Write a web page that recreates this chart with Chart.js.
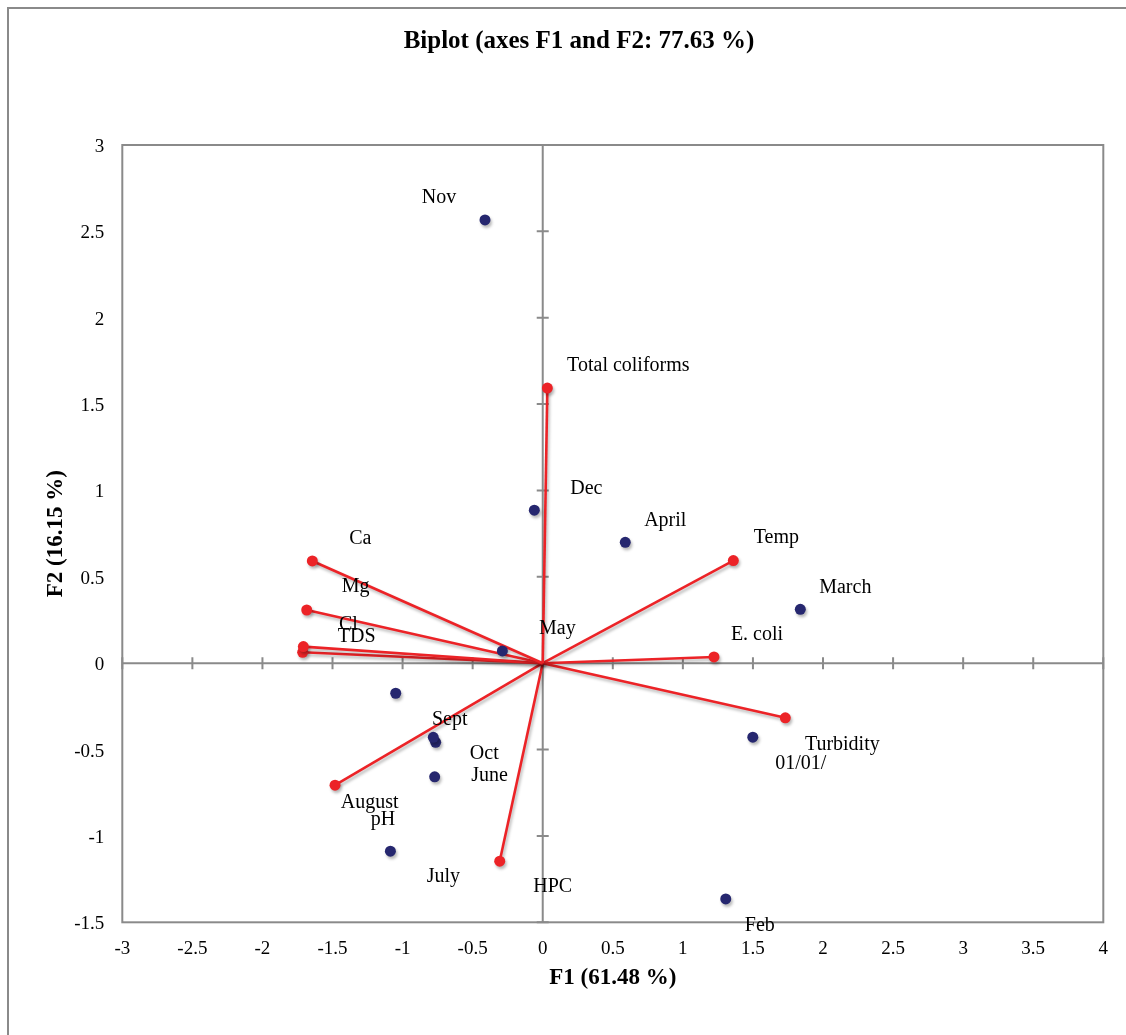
<!DOCTYPE html>
<html>
<head>
<meta charset="utf-8">
<title>Biplot</title>
<script src="https://cdn.jsdelivr.net/npm/chart.js@4.4.1/dist/chart.umd.min.js"></script>
<style>
  html, body { margin: 0; padding: 0; background: #ffffff; }
  #wrap { position: relative; width: 1126px; height: 1035px; }
</style>
</head>
<body>
<div id="wrap"><canvas id="biplot" width="1126" height="1035"></canvas></div>
<script>
// Observations (months) on the first two factors
const months = ['01/01/', 'Feb', 'March', 'April', 'May', 'June', 'July', 'August', 'Sept', 'Oct', 'Nov', 'Dec'];
const monthF1 = [1.499, 1.306, 1.838, 0.589, -0.288, -0.764, -1.087, -0.771, -1.049, -0.781, -0.412, -0.060];
const monthF2 = [-0.428, -1.365, 0.312, 0.700, 0.071, -0.458, -1.088, -0.658, -0.174, -0.429, 2.566, 0.886];

// Variables (loadings drawn as vectors from the origin)
const variables = ['Total coliforms', 'Ca', 'Mg', 'Cl', 'TDS', 'Temp', 'E. coli', 'Turbidity', 'pH', 'HPC'];
const varF1 = [0.033, -1.644, -1.684, -1.708, -1.713, 1.360, 1.222, 1.731, -1.482, -0.307];
const varF2 = [1.593, 0.592, 0.308, 0.096, 0.063, 0.594, 0.036, -0.316, -0.706, -1.146];

// Axis ticks
const xTicks = [-3, -2.5, -2, -1.5, -1, -0.5, 0, 0.5, 1, 1.5, 2, 2.5, 3, 3.5, 4];
const yTicks = [-1.5, -1, -0.5, 0, 0.5, 1, 1.5, 2, 2.5, 3];

// Label placement (pixel offset from each marker to the label centre)
const monthLabelOffsets = [[48, 27], [34, 27], [45, -22], [40, -22], [55, -22], [54, 33],
                           [53, 26], [-65, 26], [54, 26], [51, 16], [-46, -22], [52, -21]];
const varLabelOffsets = [[81, -22], [48, -22], [49, -23], [45, -22], [54, -16],
                         [43, -23], [43, -22], [57, 27], [48, 35], [53, 26]];

const SERIF = "'Liberation Serif', 'Times New Roman', serif";
const RED = '#ec2327';
const NAVY = '#26276f';
const GREY = '#8a8a8a';

const obsPoints = months.map((m, i) => ({ x: monthF1[i], y: monthF2[i] }));

const varDatasets = variables.map((name, i) => ({
  label: name,
  data: [{ x: 0, y: 0 }, { x: varF1[i], y: varF2[i] }],
  showLine: true,
  borderColor: RED,
  borderWidth: 2.6,
  pointRadius: [0, 5.5],
  pointBackgroundColor: RED,
  pointBorderColor: RED,
  pointBorderWidth: 0,
  order: 1,
  labelOffsets: [null, varLabelOffsets[i]],
  labelTexts: [null, name]
}));

const obsDataset = {
  label: 'Observations',
  data: obsPoints,
  showLine: false,
  pointRadius: 5.5,
  pointBackgroundColor: NAVY,
  pointBorderColor: NAVY,
  pointBorderWidth: 0,
  order: 0,
  labelOffsets: monthLabelOffsets,
  labelTexts: months
};

// Outer chart border, plot frame, and the axes crossing at the origin
const framePlugin = {
  id: 'frame',
  beforeDraw(chart) {
    const ctx = chart.ctx;
    ctx.save();
    ctx.strokeStyle = GREY;
    ctx.lineWidth = 2;
    ctx.strokeRect(8, 8, 3000, 3000);
    ctx.restore();
  },
  beforeDatasetsDraw(chart) {
    const { ctx, chartArea: a, scales: { x, y } } = chart;
    const x0 = x.getPixelForValue(0);
    const y0 = y.getPixelForValue(0);
    ctx.save();
    ctx.strokeStyle = GREY;
    ctx.lineWidth = 2;
    ctx.strokeRect(a.left, a.top, a.right - a.left, a.bottom - a.top);
    ctx.beginPath();
    ctx.moveTo(a.left, y0); ctx.lineTo(a.right, y0);
    ctx.moveTo(x0, a.top); ctx.lineTo(x0, a.bottom);
    xTicks.forEach(v => {
      const px = x.getPixelForValue(v);
      ctx.moveTo(px, y0 - 6); ctx.lineTo(px, y0 + 6);
    });
    yTicks.forEach(v => {
      const py = y.getPixelForValue(v);
      ctx.moveTo(x0 - 6, py); ctx.lineTo(x0 + 6, py);
    });
    ctx.stroke();
    ctx.restore();
  }
};

// Soft drop shadow under markers and vectors
const shadowPlugin = {
  id: 'markShadow',
  beforeDatasetDraw(chart) {
    const ctx = chart.ctx;
    ctx.save();
    ctx.shadowColor = 'rgba(0,0,0,0.28)';
    ctx.shadowBlur = 3;
    ctx.shadowOffsetX = 1.5;
    ctx.shadowOffsetY = 2.5;
  },
  afterDatasetDraw(chart) {
    chart.ctx.restore();
  }
};

// Text labels next to observations and variable vectors
const labelPlugin = {
  id: 'pointLabels',
  afterDatasetsDraw(chart) {
    const ctx = chart.ctx;
    ctx.save();
    ctx.font = '20px ' + SERIF;
    ctx.fillStyle = '#000';
    ctx.textAlign = 'center';
    ctx.textBaseline = 'middle';
    chart.data.datasets.forEach((ds, di) => {
      const meta = chart.getDatasetMeta(di);
      meta.data.forEach((el, i) => {
        const txt = ds.labelTexts && ds.labelTexts[i];
        if (!txt) return;
        const off = ds.labelOffsets[i];
        ctx.fillText(txt, el.x + off[0], el.y + off[1]);
      });
    });
    ctx.restore();
  }
};

new Chart(document.getElementById('biplot'), {
  type: 'scatter',
  data: { datasets: [obsDataset, ...varDatasets] },
  options: {
    responsive: false,
    animation: false,
    layout: { padding: { left: 54.7, right: 22.7, top: 0, bottom: 0 } },
    plugins: {
      legend: { display: false },
      tooltip: { enabled: false },
      title: {
        display: true,
        text: 'Biplot (axes F1 and F2: 77.63 %)',
        color: '#000',
        font: { family: SERIF, size: 25, weight: 'bold', lineHeight: 1.2 },
        padding: { top: 27, bottom: 88 }
      }
    },
    scales: {
      x: {
        type: 'linear',
        min: -3,
        max: 4,
        afterBuildTicks: s => { s.ticks = xTicks.map(v => ({ value: v })); },
        afterFit: s => { s.height = 112.7; },
        grid: { display: false, drawTicks: false },
        border: { display: false },
        ticks: {
          color: '#000',
          padding: 15,
          maxRotation: 0,
          autoSkip: false,
          font: { family: SERIF, size: 19 },
          callback: v => String(v)
        },
        title: {
          display: true,
          text: 'F1 (61.48 %)',
          color: '#000',
          font: { family: SERIF, size: 23, weight: 'bold', lineHeight: 1.2 },
          padding: { top: 0, bottom: 43 }
        }
      },
      y: {
        type: 'linear',
        min: -1.5,
        max: 3,
        afterBuildTicks: s => { s.ticks = yTicks.map(v => ({ value: v })); },
        afterFit: s => { s.width = 67.6; },
        grid: { display: false, drawTicks: false },
        border: { display: false },
        ticks: {
          color: '#000',
          padding: 18,
          labelOffset: 2,
          autoSkip: false,
          font: { family: SERIF, size: 19 },
          callback: v => String(v)
        },
        title: {
          display: true,
          text: 'F2 (16.15 %)',
          color: '#000',
          font: { family: SERIF, size: 23, weight: 'bold', lineHeight: 1.2 },
          padding: { top: -12, bottom: 0 }
        }
      }
    }
  },
  plugins: [framePlugin, shadowPlugin, labelPlugin]
});
</script>
</body>
</html>
